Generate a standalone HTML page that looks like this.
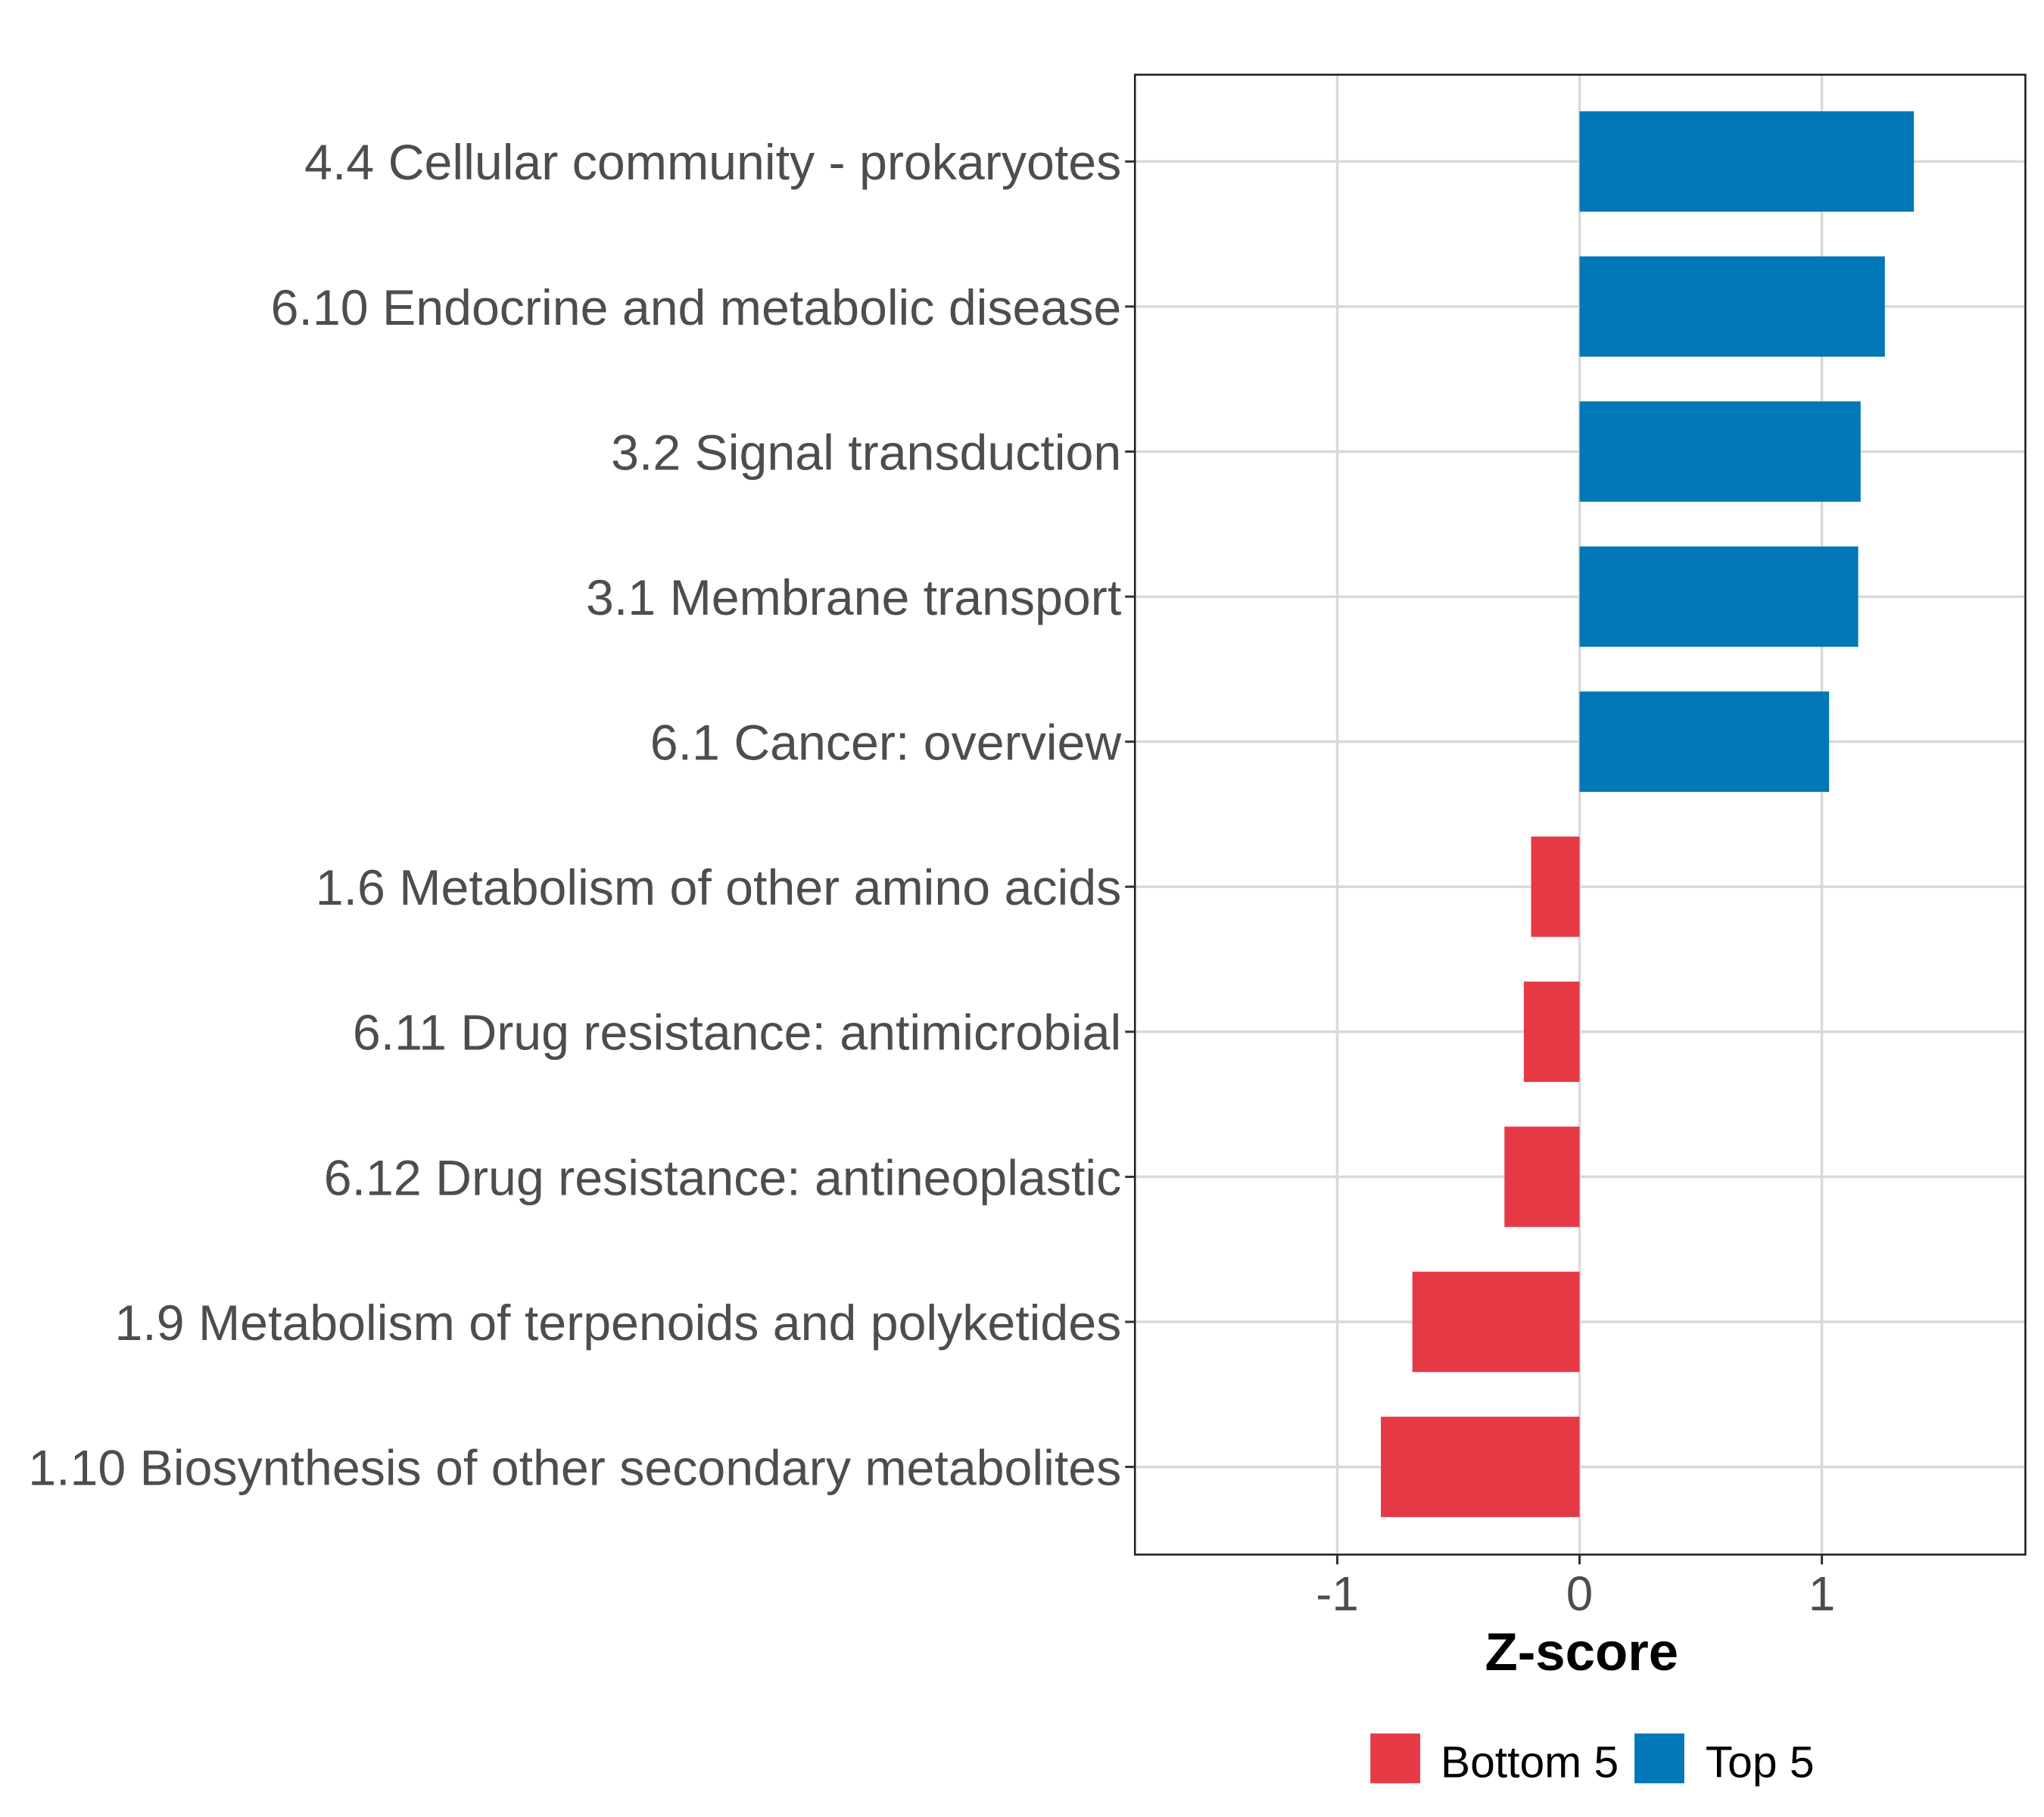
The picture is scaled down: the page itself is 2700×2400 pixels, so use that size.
<!DOCTYPE html>
<html><head><meta charset="utf-8">
<style>
html,body{margin:0;padding:0;background:#fff;}
svg{display:block;font-family:"Liberation Sans",Arial,sans-serif;}
</style></head>
<body>
<svg id="chart" width="2700" height="2400" viewBox="0 0 2700 2400" xmlns="http://www.w3.org/2000/svg">
<rect x="0" y="0" width="2700" height="2400" fill="#fff"/>
<g transform="scale(0.9968)">
<g id="grid"></g>
<g id="bars"></g>
<rect x="1504" y="99" width="1180" height="1961" fill="none" stroke="#1a1a1a" stroke-width="2.5"/>
<g id="ylabels"></g>
<g id="xticks"></g>
<text x="2096" y="2213" font-size="71" font-weight="bold" text-anchor="middle" fill="#000">Z-score</text>
<g>
  <rect x="1816" y="2297" width="66" height="66" fill="#E63946"/>
  <text x="1909" y="2355" font-size="59" fill="#000">Bottom 5</text>
  <rect x="2166" y="2297" width="66" height="66" fill="#0077B6"/>
  <text x="2260" y="2355" font-size="59" fill="#000">Top 5</text>
</g>
</g>
</svg>
<script>
const categories = [
  "4.4 Cellular community - prokaryotes",
  "6.10 Endocrine and metabolic disease",
  "3.2 Signal transduction",
  "3.1 Membrane transport",
  "6.1 Cancer: overview",
  "1.6 Metabolism of other amino acids",
  "6.11 Drug resistance: antimicrobial",
  "6.12 Drug resistance: antineoplastic",
  "1.9 Metabolism of terpenoids and polyketides",
  "1.10 Biosynthesis of other secondary metabolites"
];
const zscores = [1.38, 1.26, 1.16, 1.15, 1.03, -0.2, -0.23, -0.31, -0.69, -0.82];
const groups = ["Top 5","Top 5","Top 5","Top 5","Top 5","Bottom 5","Bottom 5","Bottom 5","Bottom 5","Bottom 5"];
const xTicks = [-1, 0, 1];
const xTickLabels = ["-1", "0", "1"];

const NS = "http://www.w3.org/2000/svg";
const panelL = 1504, panelR = 2684, panelT = 99, panelB = 2060;
const xMin = -1.835, xMax = 1.84;
function xScale(v){ return panelL + (v - xMin) / (xMax - xMin) * (panelR - panelL); }
const rowStep = 192.2, row0 = 214;
function yScale(i){ return row0 + i * rowStep; }
const barH = 133;
const colors = {"Top 5":"#0077B6","Bottom 5":"#E63946"};
function mk(tag, attrs, parent){
  const e = document.createElementNS(NS, tag);
  for (const k in attrs) e.setAttribute(k, attrs[k]);
  parent.appendChild(e);
  return e;
}
const grid = document.getElementById('grid');
const bars = document.getElementById('bars');
const yl = document.getElementById('ylabels');
const xt = document.getElementById('xticks');

xTicks.forEach((t, i) => {
  const x = xScale(t);
  const g = mk('line', {x1:x, x2:x, y1:panelT, y2:panelB, stroke:'#d9d9d9', 'stroke-width':3.5}, grid);
  
  
  const tk = mk('line', {x1:x, x2:x, y1:panelB, y2:panelB+13, stroke:'#333', 'stroke-width':3}, xt);
  
  
  const tl = mk('text', {x:x, y:2134, 'font-size':64, 'text-anchor':'middle', fill:'#4d4d4d'}, xt);
  tl.textContent = xTickLabels[i];
  
  
});

categories.forEach((c, i) => {
  const y = yScale(i);
  const g = mk('line', {x1:panelL, x2:panelR, y1:y, y2:y, stroke:'#d9d9d9', 'stroke-width':3.5}, grid);
  
  
  const v = zscores[i];
  const x0 = xScale(0), x1 = xScale(v);
  const b = mk('rect', {x:Math.min(x0,x1), y:y - barH/2, width:Math.abs(x1-x0), height:barH, fill:colors[groups[i]]}, bars);
  
  
  const tk = mk('line', {x1:panelL-13, x2:panelL, y1:y, y2:y, stroke:'#333', 'stroke-width':3}, yl);
  
  
  const t = mk('text', {x:panelL-18, y:y+24, 'font-size':66.5, 'text-anchor':'end', fill:'#4d4d4d'}, yl);
  t.textContent = c;
  
  
});
</script>
</body></html>
